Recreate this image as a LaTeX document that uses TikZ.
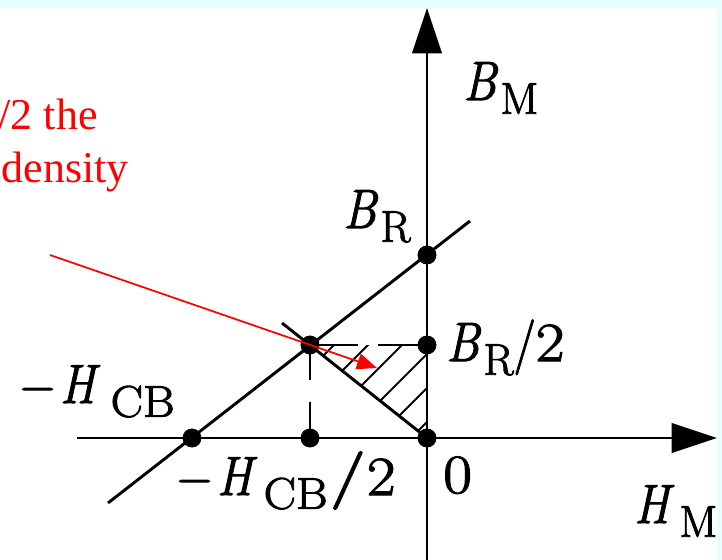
\documentclass[tikz,border=0pt]{standalone}
\usepackage{graphicx}
\usepackage{fontspec}
\usetikzlibrary{arrows.meta}
\newfontfamily\redserif{Liberation Serif}
\newfontfamily\labfont{Latin Modern Roman}[FakeBold=2]
\definecolor{bgcyan}{RGB}{230,255,255}
\newcommand{\lbl}[1]{\scalebox{1}[1.15]{\labfont\fontsize{36}{40}\selectfont #1}}
\newcommand{\subt}[2][1.15]{\raisebox{-9pt}{\scalebox{#1}[1]{\fontsize{29}{30}\selectfont\upshape #2}}}
\newcommand{\dg}[1]{\scalebox{1.3}[1]{\upshape #1}}
\begin{document}
\begin{tikzpicture}[x=0.75pt,y=-0.75pt,
  ax/.style={line width=2.2pt},
  ln/.style={line width=2.2pt},
  hatchln/.style={line width=1.4pt},
  dashh/.style={line width=2.2pt,dash pattern=on 36pt off 15pt},
  dashv/.style={line width=2.2pt,dash pattern=on 26pt off 17pt},
  dot/.style={circle,fill=black,inner sep=0pt,minimum size=14pt},
  lab/.style={inner sep=0pt,anchor=base west},
  redtxt/.style={inner sep=0pt,anchor=base east,text=red,font=\redserif\fontsize{33}{40}\selectfont},
  redarrow/.style={draw=red,line width=1.3pt,-{Triangle[length=15pt,width=12pt]}}]
\useasboundingbox (0,0) rectangle (722,560);
\fill[white] (0,0) rectangle (722,560);
\fill[bgcyan] (0,0) rectangle (722,8);
\fill[bgcyan] (717,0) rectangle (722,560);
\clip (0,8) rectangle (717,560);

% points
\node[dot] (br) at (427,255) {};
\node[dot] (br2) at (427,345) {};
\node[dot] (p) at (310,345) {};
\node[dot] (hc) at (192,438) {};
\node[dot] (hc2) at (310,438) {};
\node[dot] (o) at (427,438) {};
\coordinate (ytop) at (427,8);
\coordinate (ybot) at (427,562);
\coordinate (xl) at (77,438);
\coordinate (xr) at (717,438);
\coordinate (d1a) at (108,503);
\coordinate (d1b) at (470,221);
\coordinate (d2a) at (282,323);

% hatching
\begin{scope}
\clip (p.center) -- (br2.center) -- (o.center) -- cycle;
\foreach \c in {679,713,747,781,815,849}
  \draw[hatchln] ({\c-300},300) -- ({\c-480},480);
\end{scope}

% axes
\draw[ax,-{Triangle[length=34pt,width=22pt]}] (ybot) -- (ytop);
\draw[ax,-{Triangle[length=34pt,width=22pt]}] (xl) -- (xr);

% lines
\draw[ln] (d1a) -- (d1b);
\draw[ln] (d2a) -- (o.center);
\draw[dashh] (p.center) -- (br2.center);
\draw[dashv] (p.center) -- (hc2.center);

% redraw dots on top
\foreach \n in {br,br2,p,hc,hc2,o} \fill (\n) circle (7pt);

% labels
\node[lab] (lbm) at (463,100) {\lbl{\textit{B}\hspace{2pt}\subt{M}}};
\node[lab] (lbr) at (343,228) {\lbl{\textit{B}\hspace{2pt}\subt{R}}};
\node[lab] (lbr2) at (446,361) {\lbl{\textit{B}\hspace{2pt}\subt{R}/\dg{2}}};
\node[lab] (lhc) at (20,403) {\lbl{−\hspace{4pt}\textit{H}\hspace{8pt}\subt[1.25]{CB}}};
\node[lab] (lhc2) at (177,495) {\lbl{−\hspace{4pt}\textit{H}\hspace{5pt}\subt[1.25]{CB}\hspace{2pt}\scalebox{1.6}[1.05]{/}\hspace{1pt}\dg{2}}};
\node[lab] (lo) at (443,493) {\lbl{\dg{0}}};
\node[lab] (lhm) at (634,523) {\lbl{\textit{H}\hspace{4pt}\subt{M}}};

% red annotation
\node[redtxt] (t1) at (98,130) {/2 the};
\node[redtxt] (t2) at (129,183) {density};
\coordinate (rs) at (50,255);
\coordinate (re) at (377,368);
\draw[redarrow] (rs) -- (re);
\end{tikzpicture}
\end{document}
